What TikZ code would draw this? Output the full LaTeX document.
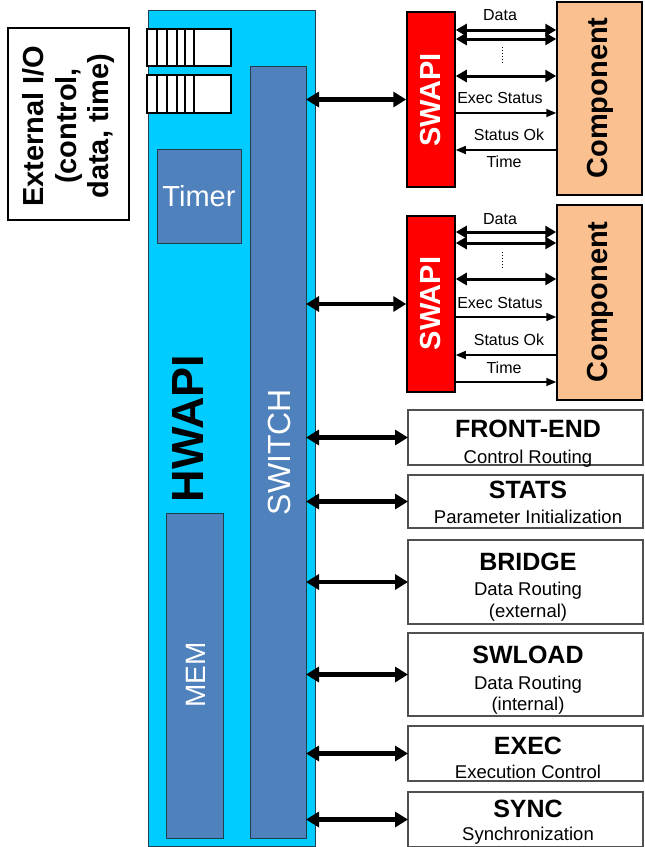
\documentclass[tikz,border=0pt]{standalone}
\usepackage{fontspec}
\setmainfont{Liberation Sans}
\usetikzlibrary{arrows.meta}
\definecolor{hwcyan}{HTML}{00CCFF}
\definecolor{steel}{HTML}{4F81BD}
\definecolor{peach}{HTML}{FAC090}
\definecolor{swred}{HTML}{FF0000}
\definecolor{edgec}{HTML}{1F3F4F}
\definecolor{boxedge}{HTML}{505050}
\begin{document}
\begin{tikzpicture}[x=1pt,y=-1pt,
  blk/.style={draw=edgec, line width=1pt, inner sep=0pt, outer sep=0pt},
  fifo/.style={draw=black, line width=2.5pt, fill=white, inner sep=0pt, outer sep=0pt},
  fifoline/.style={draw=black, line width=2.2pt},
  rbox/.style={draw=boxedge, line width=1.3pt, fill=white, inner sep=0pt, outer sep=0pt, minimum width=235pt},
  ttl/.style={font=\fontsize{25}{26}\selectfont\bfseries, anchor=base, inner sep=0pt},
  sub/.style={font=\fontsize{18.5}{20}\selectfont, anchor=base, inner sep=0pt},
  lbl/.style={font=\fontsize{16}{17}\selectfont, anchor=base, inner sep=0pt},
  big/.style={line width=4.5pt, {Triangle[width=15pt,length=13pt]}-{Triangle[width=15pt,length=13pt]}},
  dat/.style={line width=3pt, {Triangle[width=12pt,length=11pt]}-{Triangle[width=12pt,length=11pt]}},
  thin/.style={line width=1.5pt, -{Triangle[width=8pt,length=10pt]}},
  dotl/.style={line width=1pt, dotted}
]
\useasboundingbox (0,0) rectangle (645,847);

% HWAPI
\node[blk, fill=hwcyan, minimum width=167pt, minimum height=836pt] (hw) at (231.5,428) {};
\node[font=\fontsize{45}{45}\selectfont\bfseries, rotate=90, inner sep=0pt] (hwt) at (188,428.5) {HWAPI};

% FIFOs
\node[fifo, minimum width=84pt, minimum height=37pt] (f1) at (189,47.5) {};
\node[fifo, minimum width=84pt, minimum height=38pt] (f2) at (189,94) {};
\foreach \x in {157,167,177,185,194} {
  \draw[fifoline] (\x,29) -- (\x,66);
  \draw[fifoline] (\x,75) -- (\x,113);
}

% Switch
\node[blk, fill=steel, minimum width=56pt, minimum height=772pt] (sw) at (278,452) {};
\node[font=\fontsize{32}{32}\selectfont, text=white, rotate=90, inner sep=0pt] (swt) at (279,452) {SWITCH};

% Timer
\node[blk, fill=steel, minimum width=84pt, minimum height=94pt, font=\fontsize{29}{29}\selectfont, text=white] (tm) at (199,196) {Timer};

% MEM
\node[blk, fill=steel, minimum width=57pt, minimum height=325pt] (mem) at (194.5,675.5) {};
\node[font=\fontsize{28}{28}\selectfont, text=white, rotate=90, inner sep=0pt] (memt) at (196,675) {MEM};

% External I/O
\node[draw=black, line width=1.5pt, minimum width=121pt, minimum height=192pt, inner sep=0pt] (ext) at (68.5,124) {};
\node[font=\fontsize{29}{32.5}\selectfont\bfseries, rotate=90, align=center, inner sep=0pt] (extt) at (69,126) {External I/O\\(control,\\data, time)};

% SWAPI / Component groups
\node[draw=black, line width=1.5pt, fill=swred, minimum width=48pt, minimum height=175pt, inner sep=0pt] (s1) at (431,99.5) {};
\node[font=\fontsize{29}{29}\selectfont\bfseries, text=white, rotate=90, inner sep=0pt] (s1t) at (431,100) {SWAPI};
\node[draw=black, line width=1.5pt, fill=peach, minimum width=85pt, minimum height=193pt, inner sep=0pt] (c1) at (599.5,98.5) {};
\node[font=\fontsize{29}{29}\selectfont\bfseries, rotate=90, inner sep=0pt] (c1t) at (600,98) {Component};

\node[draw=black, line width=1.5pt, fill=swred, minimum width=48pt, minimum height=176pt, inner sep=0pt] (s2) at (431,304) {};
\node[font=\fontsize{29}{29}\selectfont\bfseries, text=white, rotate=90, inner sep=0pt] (s2t) at (431,303.5) {SWAPI};
\node[draw=black, line width=1.5pt, fill=peach, minimum width=85pt, minimum height=195pt, inner sep=0pt] (c2) at (599.5,302.5) {};
\node[font=\fontsize{29}{29}\selectfont\bfseries, rotate=90, inner sep=0pt] (c2t) at (600,302) {Component};

% group 1 connectors
\node[lbl] (d1) at (500,20) {Data};
\draw[dat] (s1.east |- 0,30) -- (c1.west |- 0,30);
\draw[dat] (s1.east |- 0,39) -- (c1.west |- 0,39);
\draw[dotl] (502,47) -- (502,63);
\draw[dat] (s1.east |- 0,76) -- (c1.west |- 0,76);
\node[lbl] (e1) at (500,103) {Exec Status};
\draw[thin] (s1.east |- 0,113) -- (c1.west |- 0,113);
\node[lbl] (o1) at (509,140) {Status Ok};
\draw[thin] (c1.west |- 0,150) -- (s1.east |- 0,150);
\node[lbl] (t1) at (504,167) {Time};

% group 2 connectors
\node[lbl] (d2) at (500,224) {Data};
\draw[dat] (s2.east |- 0,232) -- (c2.west |- 0,232);
\draw[dat] (s2.east |- 0,243) -- (c2.west |- 0,243);
\draw[dotl] (502,252) -- (502,270);
\draw[dat] (s2.east |- 0,279) -- (c2.west |- 0,279);
\node[lbl] (e2) at (500,308) {Exec Status};
\draw[thin] (s2.east |- 0,317) -- (c2.west |- 0,317);
\node[lbl] (o2) at (509,345) {Status Ok};
\draw[thin] (c2.west |- 0,355) -- (s2.east |- 0,355);
\node[lbl] (t2) at (504,373) {Time};
\draw[thin] (s2.east |- 0,382) -- (c2.west |- 0,382);

% right boxes
\node[rbox, minimum height=55pt] (fe) at (525.5,437.5) {};
\node[ttl] at (528,437) {FRONT-END};
\node[sub] at (528,463) {Control Routing};

\node[rbox, minimum height=53pt] (st) at (525.5,501.5) {};
\node[ttl] at (528,498) {STATS};
\node[sub] at (528,523) {Parameter Initialization};

\node[rbox, minimum height=84pt] (br) at (525.5,582) {};
\node[ttl] at (528,570) {BRIDGE};
\node[sub] at (528,595) {Data Routing};
\node[sub] at (528,617) {(external)};

\node[rbox, minimum height=83pt] (sl) at (525.5,674.5) {};
\node[ttl] at (528,663) {SWLOAD};
\node[sub] at (528,689) {Data Routing};
\node[sub] at (528,710) {(internal)};

\node[rbox, minimum height=55pt] (ex) at (525.5,753.5) {};
\node[ttl] at (528,754) {EXEC};
\node[sub] at (528,778) {Execution Control};

\node[rbox, minimum height=55pt] (sy) at (525.5,819.5) {};
\node[ttl] at (528,817) {SYNC};
\node[sub] at (528,840) {Synchronization};

% switch connectors
\draw[big] (sw.east |- s1.west) -- (s1.west);
\draw[big] (sw.east |- s2.west) -- (s2.west);
\draw[big] (sw.east |- fe.west) -- (fe.west);
\draw[big] (sw.east |- st.west) -- (st.west);
\draw[big] (sw.east |- br.west) -- (br.west);
\draw[big] (sw.east |- sl.west) -- (sl.west);
\draw[big] (sw.east |- ex.west) -- (ex.west);
\draw[big] (sw.east |- sy.west) -- (sy.west);
\end{tikzpicture}
\end{document}
